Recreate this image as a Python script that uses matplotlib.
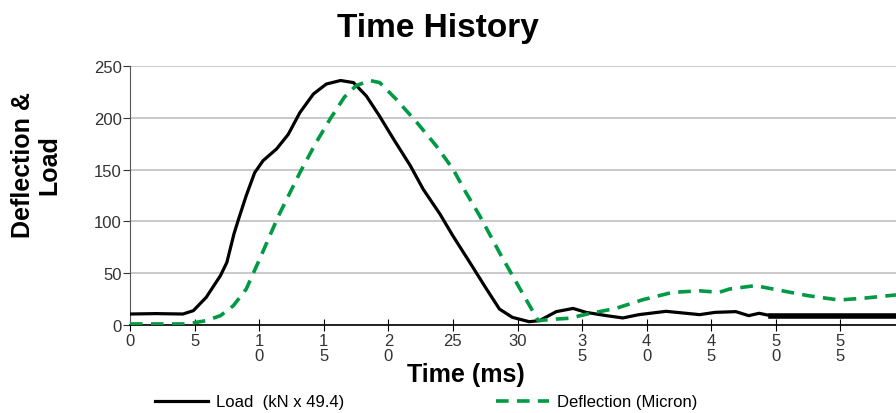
import matplotlib
matplotlib.use('Agg')
import matplotlib.pyplot as plt

plt.rcParams['font.family'] = ['Liberation Sans', 'DejaVu Sans']

# time (ms) / value pairs
load_t = [0, 2, 4.1, 4.9, 5.9, 7.0, 7.5, 7.75, 8.05, 8.4, 9.0, 9.65, 10.3, 11.35, 12.25,
          13.15, 14.2, 15.2, 16.3, 17.3, 18.3, 19.3, 20.4, 21.7, 22.7, 24.0, 25.0, 26.3,
          27.6, 28.6, 29.6, 30.9, 31.7, 33.0, 34.3, 35.3, 36.9, 38.15, 39.4, 41.5, 44.1,
          45.3, 46.9, 47.9, 48.7, 49.6, 59.3]
load_v = [10.6, 11, 10.6, 13.8, 26.7, 47.6, 60.5, 73, 88, 102, 125, 147, 158.6, 170, 184,
          205, 223, 232.6, 236, 234, 221, 202, 179.5, 153.8, 131, 107, 86, 60.5,
          34.7, 15.4, 7.4, 3.2, 4.2, 12.9, 16, 12.2, 9, 6.8, 10, 13.2, 10,
          12.2, 12.9, 9, 11.3, 9, 9]

defl_t = [0, 4.4, 5.9, 7.0, 8.0, 9.0, 10.05, 11.5, 13.15, 14.4, 15.5, 16.6, 17.5, 18.56,
          19.33, 20.6, 22.2, 23.7, 25.0, 26.0, 27.07, 28.6, 30.2, 31.6, 32.7, 34.0, 35.4,
          37.6, 39.7, 42.0, 44.1, 45.6, 46.4, 48.4, 50.5, 52.5, 54.9, 56.9, 59.3]
defl_v = [1, 1, 4.2, 9, 18.6, 34.7, 64, 105.5, 147, 176, 199, 220, 231, 236,
          234, 218, 195.6, 173, 150.6, 128, 105.5, 70, 34.7, 4.2, 5.5, 6.5, 10.6,
          16, 24.4, 31.5, 33, 31.5, 34.7, 38, 33, 28.3, 24.1, 26, 29]

xticks = [0, 5, 10, 15, 20, 25, 30, 35, 40, 45, 50, 55]
xlabels = ['0', '5', '1\n0', '1\n5', '2\n0', '25', '30', '3\n5', '4\n0', '4\n5', '5\n0', '5\n5']
yticks = [0, 50, 100, 150, 200, 250]

fig = plt.figure(figsize=(8.96, 4.14), dpi=100)
ax = fig.add_axes([130/896, 88/414, 766/896, 259/414])

ax.plot(load_t, load_v, color='black', lw=2.3, label='Load  (kN x 49.4)', zorder=3)
# the flat tail is drawn heavier in the original
tail = load_t.index(49.6)
ax.plot(load_t[tail:], load_v[tail:], color='black', lw=4, zorder=3)
ax.plot(defl_t, defl_v, color='#009a44', lw=2.6, linestyle=(0, (3.5, 2.3)),
        label='Deflection (Micron)', zorder=4)

ax.set_xlim(0, 59.3)
ax.set_ylim(0, 250)
ax.set_yticks(yticks)
ax.set_xticks(xticks)
ax.set_xticklabels(xlabels, linespacing=1.05)
ax.yaxis.grid(True, color='#c0c0c0', lw=1.2)
ax.set_axisbelow(True)

for s in ['top', 'right']:
    ax.spines[s].set_visible(False)
ax.spines['left'].set_color('#555555')
ax.spines['bottom'].set_color('black')
ax.spines['bottom'].set_linewidth(1.2)

ax.tick_params(axis='y', length=5, pad=1, labelsize=12, colors='#333333')
ax.tick_params(axis='x', direction='inout', length=9, pad=1, labelsize=12, labelcolor='#333333')

fig.text(438/896, 1 - 28/414, 'Time History', ha='center', va='center',
         fontsize=24, fontweight='bold')
fig.text(36/896, 1 - 165/414, 'Deflection &\nLoad', ha='center', va='center',
         rotation=90, fontsize=18, fontweight='bold', linespacing=1.1)
fig.text(466/896, 1 - 375/414, 'Time (ms)', ha='center', va='center',
         fontsize=18, fontweight='bold')

handles, labels = ax.get_legend_handles_labels()
fig.legend(handles, labels, loc='center left', bbox_to_anchor=(155/896, 1 - 403/414), ncol=2,
           frameon=False, fontsize=12, handlelength=3.2, handletextpad=0.45,
           columnspacing=9.1, borderpad=0, borderaxespad=0)

plt.savefig('out.png', dpi=100)
